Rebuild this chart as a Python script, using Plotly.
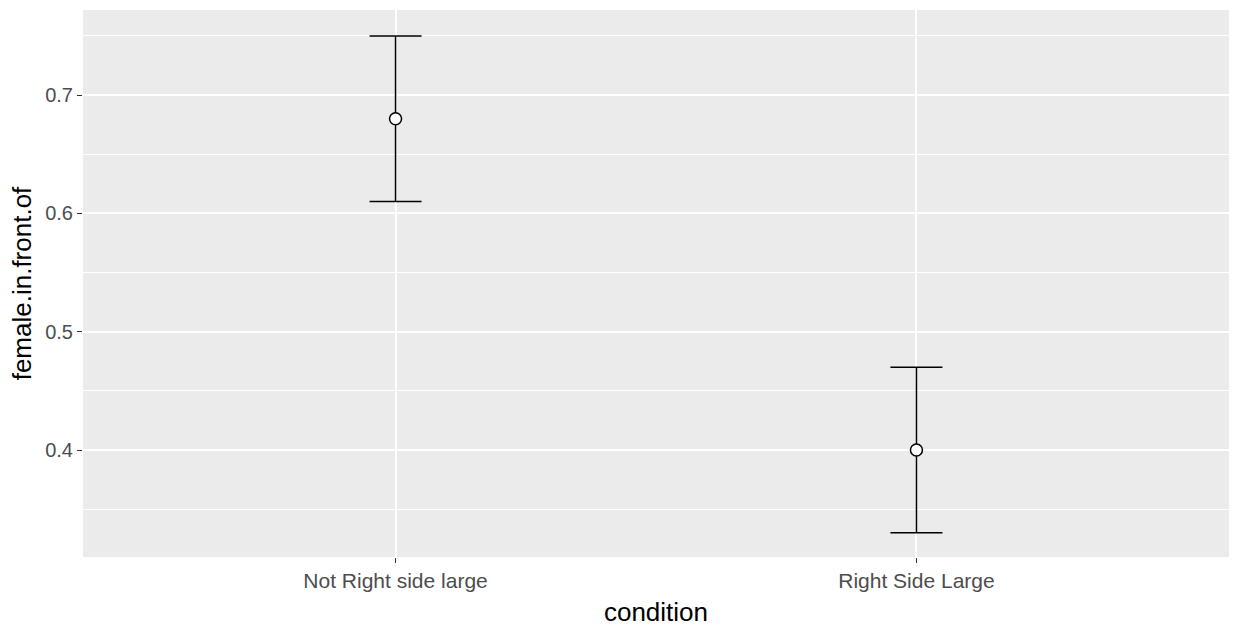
import plotly.graph_objects as go

conditions = ["Not Right side large", "Right Side Large"]
means = [0.68, 0.40]
upper = [0.75, 0.47]
lower = [0.61, 0.33]

xpos = list(range(1, len(conditions) + 1))
err_plus = [u - m for u, m in zip(upper, means)]
err_minus = [m - l for m, l in zip(means, lower)]

fig = go.Figure()
fig.add_trace(go.Scatter(
    x=xpos, y=means, mode="markers",
    marker=dict(symbol="circle", size=12, color="white",
                line=dict(color="black", width=1.5)),
    error_y=dict(type="data", symmetric=False, array=err_plus, arrayminus=err_minus,
                 color="black", thickness=1.5, width=26),
    showlegend=False,
))

font_family = "Liberation Sans, Arial, sans-serif"
fig.update_layout(
    width=1233, height=635,
    margin=dict(l=83, r=4, t=10, b=78),
    paper_bgcolor="white", plot_bgcolor="#EBEBEB",
    font=dict(family=font_family),
)
fig.update_xaxes(
    range=[0.4, 2.6], tickvals=xpos, ticktext=conditions,
    showgrid=True, gridcolor="white", gridwidth=1.5,
    ticks="outside", ticklen=5, tickcolor="#333333", tickwidth=1,
    tickfont=dict(size=21, color="#4D4D4D"),
    title=dict(text="condition", font=dict(size=26, color="black"), standoff=11),
    zeroline=False, showline=False,
)
fig.update_yaxes(
    range=[0.3096, 0.7719], tickvals=[0.4, 0.5, 0.6, 0.7],
    ticktext=["0.4", "0.5", "0.6", "0.7"],
    showgrid=True, gridcolor="white", gridwidth=1.5,
    minor=dict(tickvals=[0.35, 0.45, 0.55, 0.65, 0.75], showgrid=True,
               gridcolor="white", gridwidth=0.7, ticks=""),
    ticks="outside", ticklen=5, tickcolor="#333333", tickwidth=1,
    tickfont=dict(size=20, color="#4D4D4D"),
    title=dict(text="female.in.front.of", font=dict(size=26, color="black"), standoff=6),
    zeroline=False, showline=False,
)

fig.write_html("out.html", config={"displayModeBar": False},
               post_script="document.body.style.margin='0';document.body.style.overflow='hidden';")
